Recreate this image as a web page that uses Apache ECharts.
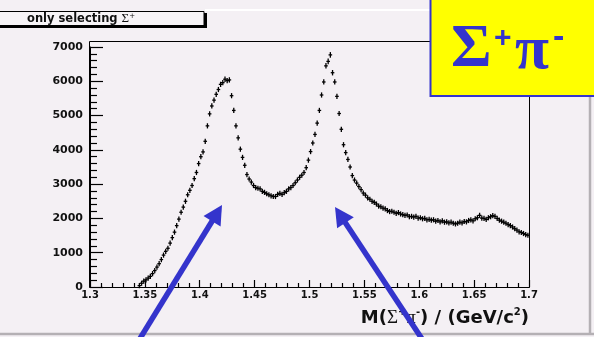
<!DOCTYPE html>
<html><head><meta charset="utf-8">
<script src="https://cdn.jsdelivr.net/npm/echarts@6/dist/echarts.min.js"></script>
<style>html,body{margin:0;padding:0;background:#f4f0f4}#c{width:594px;height:337px}</style>
</head><body><div id="c"></div>
<script>
// Histogram of M(Σ+π-) in GeV/c^2, bin width 0.002, first bin centre 1.345
const binStart = 1.345;
const binWidth = 0.002;
const counts = [
  40,110,170,210,260,310,390,480,580,680,
  800,930,1040,1130,1280,1440,1600,1790,1980,2180,
  2330,2500,2690,2820,2960,3160,3340,3600,3800,3940,
  4250,4700,5050,5280,5450,5620,5760,5910,5960,6060,
  6020,6040,5580,5150,4700,4350,4020,3780,3550,3280,
  3150,3060,2960,2900,2880,2860,2790,2760,2720,2690,
  2660,2640,2640,2700,2730,2700,2750,2790,2860,2900,
  2960,3040,3120,3200,3260,3340,3480,3700,3950,4200,
  4450,4780,5150,5600,5980,6450,6580,6770,6250,5980,
  5560,5060,4600,4150,3920,3720,3500,3250,3120,3030,
  2930,2840,2740,2680,2600,2560,2500,2470,2420,2360,
  2340,2300,2280,2230,2200,2210,2180,2150,2170,2130,
  2110,2090,2100,2050,2060,2040,2060,2010,2020,1990,
  2000,1960,1970,1950,1960,1920,1940,1900,1930,1890,
  1900,1870,1890,1860,1840,1860,1890,1870,1910,1900,
  1940,1960,1930,1990,2020,2090,2010,2000,1970,2020,
  2050,2080,2060,2000,1950,1920,1890,1860,1820,1790,
  1750,1700,1660,1610,1590,1560,1530,1510
];
const xMin = 1.3, xMax = 1.7, xStep = 0.05;
const yMin = 0, yMax = 7000, yStep = 1000;
const titleText = '{b|only selecting }{s|Σ}{sup|+}';
const axisTitle = '{b|M(}{s|Σ}{sup|+}{s|π}{sup|-}{b|) / (GeV/c}{sup|2}{b|)}';

const points = counts.map((v, i) => [+(binStart + i * binWidth).toFixed(4), v]);

const blue = '#3434cc';
function arrow(tail, tip) {
  const dx = tip[0] - tail[0], dy = tip[1] - tail[1];
  const L = Math.hypot(dx, dy), ux = dx / L, uy = dy / L;
  const hl = 19, hw = 10;
  const bx = tip[0] - ux * hl, by = tip[1] - uy * hl;
  return [
    { type: 'line', z: 100, shape: { x1: tail[0], y1: tail[1], x2: bx + ux * 2, y2: by + uy * 2 },
      style: { stroke: blue, lineWidth: 5.5 } },
    { type: 'polygon', z: 100, shape: { points: [tip, [bx - uy * hw, by + ux * hw], [bx + uy * hw, by - ux * hw]] },
      style: { fill: blue } }
  ];
}

const chart = echarts.init(document.getElementById('c'), null, { renderer: 'canvas' });
const lab = { fontFamily: 'DejaVu Sans', fontWeight: 'bold', color: '#111' };
chart.setOption({
  backgroundColor: '#f4f0f4',
  animation: false,
  grid: { left: 90, right: 65, top: 47, bottom: 50, show: false },
  xAxis: {
    type: 'value', min: xMin, max: xMax, interval: xStep,
    axisLine: { show: true, onZero: false, lineStyle: { color: '#000', width: 1 } },
    axisTick: { show: true, inside: true, length: 7, lineStyle: { color: '#000', width: 1.2 } },
    minorTick: { show: true, splitNumber: 5, length: 4, lineStyle: { color: '#000', width: 1.2 } },
    splitLine: { show: false },
    axisLabel: { ...lab, fontSize: 10, margin: 3, formatter: v => String(+v.toFixed(2)) },
    name: axisTitle, nameLocation: 'end', nameGap: 0,
    nameTextStyle: {
      align: 'right', verticalAlign: 'top', padding: [20, 0, 0, 0],
      rich: {
        b: { fontFamily: 'DejaVu Sans', fontWeight: 'bold', fontSize: 18, color: '#111', lineHeight: 23 },
        s: { fontFamily: 'Liberation Serif', fontSize: 19, color: '#111', lineHeight: 23 },
        sup: { fontFamily: 'DejaVu Sans', fontWeight: 'bold', fontSize: 10, color: '#111', verticalAlign: 'top', lineHeight: 23, padding: [0, 0, 10, 0] }
      }
    }
  },
  yAxis: {
    type: 'value', min: yMin, max: yMax, interval: yStep,
    axisLine: { show: true, onZero: false, lineStyle: { color: '#000', width: 1 } },
    axisTick: { show: true, inside: true, length: 13, lineStyle: { color: '#000', width: 1.2 } },
    minorTick: { show: true, splitNumber: 5, length: 7, lineStyle: { color: '#000', width: 1.2 } },
    splitLine: { show: false },
    axisLabel: { ...lab, fontSize: 11, margin: 7, formatter: v => String(v) }
  },
  series: [{
    type: 'custom',
    data: points,
    encode: { x: 0, y: 1 },
    renderItem(params, api) {
      const x = api.value(0), v = api.value(1);
      const e = Math.sqrt(v);
      const c = api.coord([x, v]);
      const l = api.coord([x - binWidth / 2, v]);
      const r = api.coord([x + binWidth / 2, v]);
      const t = api.coord([x, v + e]);
      const b = api.coord([x, v - e]);
      const hx = Math.max((r[0] - l[0]) / 2, 1.8);
      const hy = Math.max((b[1] - t[1]) / 2, 2.6);
      return { type: 'group', children: [
        { type: 'line', shape: { x1: c[0] - hx, y1: c[1], x2: c[0] + hx, y2: c[1] }, style: { stroke: '#000', lineWidth: 1.3 } },
        { type: 'line', shape: { x1: c[0], y1: c[1] - hy, x2: c[0], y2: c[1] + hy }, style: { stroke: '#000', lineWidth: 1.3 } }
      ] };
    }
  }],
  graphic: [
    { type: 'line', shape: { x1: 205, y1: 10, x2: 430, y2: 10 }, style: { stroke: '#ffffff', lineWidth: 2 } },
    { type: 'line', shape: { x1: 0, y1: 334, x2: 594, y2: 334 }, style: { stroke: '#b4b0b4', lineWidth: 2.5 } },
    { type: 'line', shape: { x1: 590, y1: 96, x2: 590, y2: 334 }, style: { stroke: '#b4b0b4', lineWidth: 2.5 } },
    { type: 'rect', shape: { x: 89.5, y: 41.5, width: 440, height: 246 }, style: { fill: 'none', stroke: '#000', lineWidth: 1 } },
    { type: 'rect', shape: { x: -2, y: 13, width: 209, height: 15 }, style: { fill: '#000' } },
    { type: 'rect', shape: { x: -2, y: 11.5, width: 206, height: 14 }, style: { fill: '#f7f4f7', stroke: '#000', lineWidth: 1 } },
    { type: 'text', x: 27, y: 19, style: { text: titleText, verticalAlign: 'middle',
        rich: {
          b: { fontFamily: 'DejaVu Sans', fontWeight: 'bold', fontSize: 11.5, fill: '#111' },
          s: { fontFamily: 'Liberation Serif', fontSize: 13, fill: '#111' },
          sup: { fontFamily: 'DejaVu Sans', fontSize: 7, fill: '#111', verticalAlign: 'top', padding: [0, 0, 6, 0] }
        } } },
    { type: 'rect', z: 50, shape: { x: 430.5, y: -3, width: 170, height: 99 }, style: { fill: '#ffff00', stroke: blue, lineWidth: 2 } },
    { type: 'text', z: 51, x: 451, y: 50, style: { text: 'Σ', font: 'bold 62px "Liberation Serif"', fill: blue, verticalAlign: 'middle' } },
    { type: 'text', z: 51, x: 494, y: 39, style: { text: '+', font: 'bold 30px "Liberation Sans"', fill: blue, verticalAlign: 'middle' } },
    { type: 'text', z: 51, x: 515, y: 52, style: { text: 'π', font: 'bold 62px "Liberation Serif"', fill: blue, verticalAlign: 'middle' } },
    { type: 'text', z: 51, x: 553, y: 38, style: { text: '-', font: 'bold 34px "Liberation Sans"', fill: blue, verticalAlign: 'middle' } },
    ...arrow([136, 345], [222, 205]),
    ...arrow([426, 345], [335, 207])
  ]
});
</script></body></html>
